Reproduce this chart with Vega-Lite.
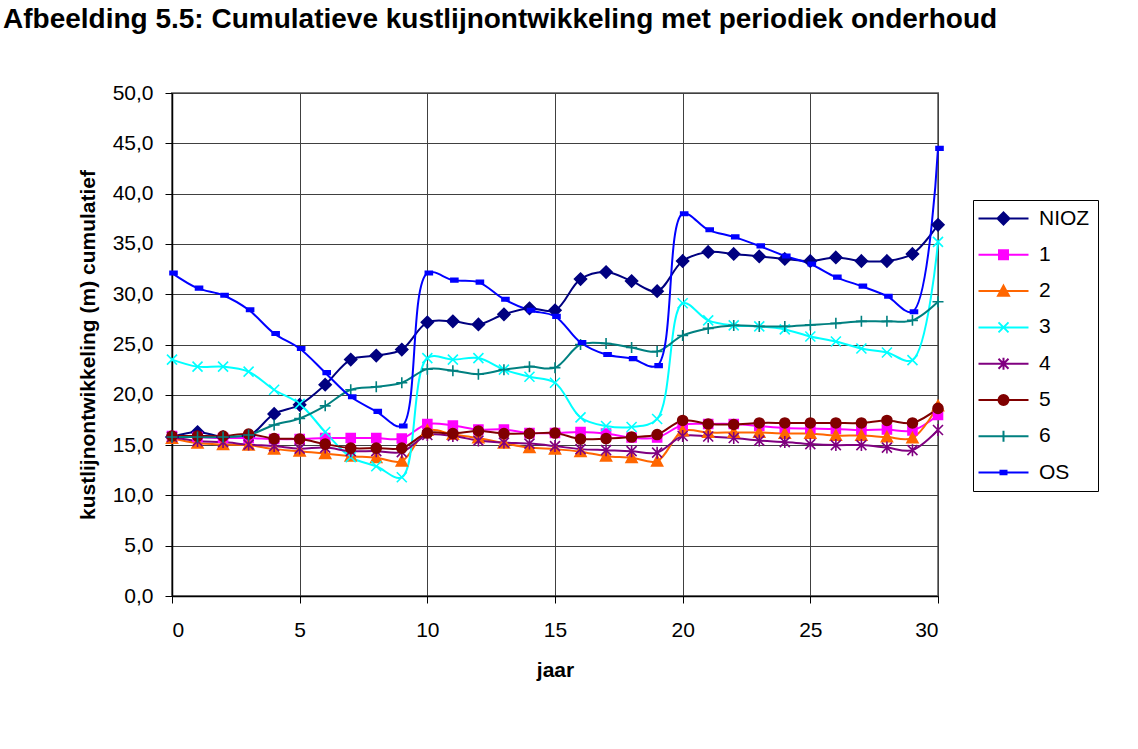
{
  "$schema": "https://vega.github.io/schema/vega-lite/v6.json",
  "autosize": "none",
  "width": 766,
  "height": 503,
  "padding": {"left": 172, "top": 93, "right": 200, "bottom": 153},
  "background": "white",
  "title": {
    "text": "Afbeelding 5.5:   Cumulatieve kustlijnontwikkeling met periodiek onderhoud",
    "anchor": "start",
    "frame": "group",
    "orient": "top",
    "baseline": "alphabetic",
    "offset": 0,
    "dx": -169,
    "dy": -26,
    "font": "Liberation Sans",
    "fontSize": 28,
    "fontWeight": "bold",
    "color": "#000"
  },
  "data": {
    "values": [
      {"jaar": 0, "NIOZ": 15.8, "1": 15.9, "2": 15.65, "3": 23.5, "4": 15.8, "5": 15.9, "6": 15.8, "OS": 32.1},
      {"jaar": 1, "NIOZ": 16.3, "1": 15.8, "2": 15.2, "3": 22.8, "4": 15.4, "5": 15.9, "6": 15.8, "OS": 30.6},
      {"jaar": 2, "NIOZ": 15.8, "1": 15.7, "2": 15.05, "3": 22.8, "4": 15.3, "5": 15.9, "6": 15.8, "OS": 29.9},
      {"jaar": 3, "NIOZ": 15.9, "1": 15.7, "2": 15.0, "3": 22.3, "4": 15.05, "5": 16.1, "6": 16.0, "OS": 28.45},
      {"jaar": 4, "NIOZ": 18.1, "1": 15.6, "2": 14.6, "3": 20.5, "4": 14.9, "5": 15.65, "6": 17.0, "OS": 26.1},
      {"jaar": 5, "NIOZ": 19.0, "1": 15.6, "2": 14.4, "3": 19.1, "4": 14.65, "5": 15.6, "6": 17.65, "OS": 24.6},
      {"jaar": 6, "NIOZ": 21.0, "1": 15.7, "2": 14.15, "3": 16.3, "4": 14.75, "5": 15.1, "6": 18.9, "OS": 22.2},
      {"jaar": 7, "NIOZ": 23.5, "1": 15.7, "2": 13.9, "3": 13.8, "4": 14.4, "5": 14.7, "6": 20.5, "OS": 19.8},
      {"jaar": 8, "NIOZ": 23.9, "1": 15.7, "2": 13.75, "3": 12.9, "4": 14.4, "5": 14.7, "6": 20.8, "OS": 18.35},
      {"jaar": 9, "NIOZ": 24.5, "1": 15.65, "2": 13.4, "3": 11.8, "4": 14.3, "5": 14.7, "6": 21.2, "OS": 16.9},
      {"jaar": 10, "NIOZ": 27.2, "1": 17.1, "2": 16.45, "3": 23.65, "4": 16.0, "5": 16.2, "6": 22.55, "OS": 32.1},
      {"jaar": 11, "NIOZ": 27.3, "1": 16.95, "2": 16.05, "3": 23.5, "4": 15.9, "5": 16.15, "6": 22.4, "OS": 31.4},
      {"jaar": 12, "NIOZ": 27.0, "1": 16.55, "2": 15.7, "3": 23.65, "4": 15.45, "5": 16.4, "6": 22.05, "OS": 31.2},
      {"jaar": 13, "NIOZ": 28.0, "1": 16.55, "2": 15.2, "3": 22.5, "4": 15.25, "5": 16.15, "6": 22.5, "OS": 29.5},
      {"jaar": 14, "NIOZ": 28.6, "1": 16.2, "2": 14.75, "3": 21.8, "4": 15.15, "5": 16.15, "6": 22.8, "OS": 28.4},
      {"jaar": 15, "NIOZ": 28.4, "1": 16.2, "2": 14.6, "3": 21.2, "4": 14.9, "5": 16.2, "6": 22.7, "OS": 27.8},
      {"jaar": 16, "NIOZ": 31.5, "1": 16.3, "2": 14.35, "3": 17.75, "4": 14.6, "5": 15.6, "6": 25.0, "OS": 25.2},
      {"jaar": 17, "NIOZ": 32.2, "1": 16.15, "2": 13.9, "3": 16.9, "4": 14.5, "5": 15.65, "6": 25.1, "OS": 24.0},
      {"jaar": 18, "NIOZ": 31.3, "1": 15.75, "2": 13.75, "3": 16.8, "4": 14.4, "5": 15.8, "6": 24.7, "OS": 23.6},
      {"jaar": 19, "NIOZ": 30.3, "1": 15.75, "2": 13.4, "3": 17.6, "4": 14.25, "5": 16.05, "6": 24.3, "OS": 22.9},
      {"jaar": 20, "NIOZ": 33.3, "1": 17.0, "2": 16.4, "3": 29.1, "4": 15.9, "5": 17.45, "6": 25.9, "OS": 38.0},
      {"jaar": 21, "NIOZ": 34.2, "1": 17.1, "2": 16.25, "3": 27.4, "4": 15.85, "5": 17.1, "6": 26.6, "OS": 36.4},
      {"jaar": 22, "NIOZ": 34.0, "1": 17.1, "2": 16.25, "3": 26.9, "4": 15.7, "5": 17.05, "6": 26.9, "OS": 35.7},
      {"jaar": 23, "NIOZ": 33.75, "1": 16.9, "2": 16.25, "3": 26.8, "4": 15.45, "5": 17.2, "6": 26.8, "OS": 34.8},
      {"jaar": 24, "NIOZ": 33.5, "1": 16.7, "2": 16.15, "3": 26.5, "4": 15.3, "5": 17.2, "6": 26.8, "OS": 33.8},
      {"jaar": 25, "NIOZ": 33.3, "1": 16.65, "2": 16.15, "3": 25.8, "4": 15.1, "5": 17.2, "6": 26.95, "OS": 33.0},
      {"jaar": 26, "NIOZ": 33.65, "1": 16.6, "2": 15.95, "3": 25.3, "4": 15.0, "5": 17.2, "6": 27.1, "OS": 31.7},
      {"jaar": 27, "NIOZ": 33.3, "1": 16.5, "2": 15.95, "3": 24.6, "4": 15.0, "5": 17.2, "6": 27.3, "OS": 30.8},
      {"jaar": 28, "NIOZ": 33.3, "1": 16.55, "2": 15.8, "3": 24.2, "4": 14.75, "5": 17.45, "6": 27.3, "OS": 29.8},
      {"jaar": 29, "NIOZ": 34.0, "1": 16.45, "2": 15.7, "3": 23.45, "4": 14.5, "5": 17.2, "6": 27.4, "OS": 28.25},
      {"jaar": 30, "NIOZ": 36.9, "1": 18.0, "2": 18.9, "3": 35.2, "4": 16.5, "5": 18.65, "6": 29.25, "OS": 44.5}
    ]
  },
  "transform": [
    {"fold": ["NIOZ", "1", "2", "3", "4", "5", "6", "OS"], "as": ["serie", "waarde"]}
  ],
  "encoding": {
    "x": {
      "field": "jaar",
      "type": "quantitative",
      "scale": {"domain": [0, 30], "nice": false, "zero": false},
      "axis": {
        "title": "jaar",
        "values": [0, 5, 10, 15, 20, 25, 30],
        "labelPadding": 16,
        "titlePadding": 19
      }
    },
    "y": {
      "field": "waarde",
      "type": "quantitative",
      "scale": {"domain": [0, 50], "nice": false},
      "axis": {
        "title": "kustlijnontwikkeling (m) cumulatief",
        "values": [0, 5, 10, 15, 20, 25, 30, 35, 40, 45, 50],
        "labelExpr": "replace(format(datum.value, '.1f'), '.', ',')",
        "labelPadding": 12,
        "titlePadding": 14
      }
    }
  },
  "layer": [
    {
      "mark": {"type": "line", "interpolate": "catmull-rom", "strokeWidth": 2},
      "encoding": {
        "color": {
          "field": "serie",
          "type": "nominal",
          "scale": {
            "domain": ["NIOZ", "1", "2", "3", "4", "5", "6", "OS"],
            "range": ["#000080", "#FF00FF", "#FF6600", "#00FFFF", "#800080", "#800000", "#008080", "#0000FF"]
          },
          "legend": null
        }
      }
    },
    {
      "mark": {"type": "point", "filled": true, "opacity": 1, "strokeWidth": 1.6, "size": 100},
      "encoding": {
        "shape": {
          "field": "serie",
          "type": "nominal",
          "scale": {
            "domain": ["NIOZ", "1", "2", "3", "4", "5", "6", "OS"],
            "range": [
              "M0,-1.2L1.2,0L0,1.2L-1.2,0Z",
              "M-0.9,-0.9H0.9V0.9H-0.9Z",
              "M0,-1.1L1.1,0.95H-1.1Z",
              "M-1,-1L1,1M-1,1L1,-1",
              "M-1,-1L1,1M-1,1L1,-1M0,-1.2V1.2",
              "M-1,0A1,1,0,1,1,1,0A1,1,0,1,1,-1,0Z",
              "M-1.1,0H1.1M0,-1.1V1.1",
              "M-0.4,-0.35H1V0.35H-0.4Z"
            ]
          },
          "legend": null
        },
        "stroke": {
          "field": "serie",
          "type": "nominal",
          "scale": {
            "domain": ["NIOZ", "1", "2", "3", "4", "5", "6", "OS"],
            "range": ["#000080", "#FF00FF", "#FF6600", "#00FFFF", "#800080", "#800000", "#008080", "#0000FF"]
          },
          "legend": null
        },
        "fill": {
          "field": "serie",
          "type": "nominal",
          "scale": {
            "domain": ["NIOZ", "1", "2", "3", "4", "5", "6", "OS"],
            "range": ["#000080", "#FF00FF", "#FF6600", "transparent", "transparent", "#800000", "transparent", "#0000FF"]
          },
          "legend": null
        }
      }
    },
    {
      "transform": [{"filter": "false"}],
      "mark": {"type": "point", "filled": true, "opacity": 1, "strokeWidth": 2, "size": 100},
      "encoding": {
        "shape": {
          "field": "serie",
          "type": "nominal",
          "title": null,
          "scale": {
            "domain": ["NIOZ", "1", "2", "3", "4", "5", "6", "OS"],
            "range": [
              "M-5,0H5M0,-1.2L1.2,0L0,1.2L-1.2,0Z",
              "M-5,0H5M-0.9,-0.9H0.9V0.9H-0.9Z",
              "M-5,0H5M0,-1.1L1.1,0.95H-1.1Z",
              "M-5,0H5M-1,-1L1,1M-1,1L1,-1",
              "M-5,0H5M-1,-1L1,1M-1,1L1,-1M0,-1.2V1.2",
              "M-5,0H5M-1,0A1,1,0,1,1,1,0A1,1,0,1,1,-1,0Z",
              "M-5,0H5M-1.1,0H1.1M0,-1.1V1.1",
              "M-5,0H5M-0.6,-0.35H0.6V0.35H-0.6Z"
            ]
          }
        },
        "stroke": {
          "field": "serie",
          "type": "nominal",
          "title": null,
          "scale": {
            "domain": ["NIOZ", "1", "2", "3", "4", "5", "6", "OS"],
            "range": ["#000080", "#FF00FF", "#FF6600", "#00FFFF", "#800080", "#800000", "#008080", "#0000FF"]
          }
        },
        "fill": {
          "field": "serie",
          "type": "nominal",
          "title": null,
          "scale": {
            "domain": ["NIOZ", "1", "2", "3", "4", "5", "6", "OS"],
            "range": ["#000080", "#FF00FF", "#FF6600", "transparent", "transparent", "#800000", "transparent", "#0000FF"]
          }
        }
      }
    }
  ],
  "resolve": {
    "scale": {"color": "independent", "shape": "independent", "stroke": "independent", "fill": "independent"},
    "legend": {"color": "independent", "shape": "independent", "stroke": "independent", "fill": "independent"}
  },
  "config": {
    "font": "Liberation Sans",
    "view": {"stroke": "#808080", "strokeWidth": 2},
    "axis": {
      "domainColor": "#000",
      "domainWidth": 1.5,
      "tickColor": "#000",
      "tickSize": 7,
      "tickWidth": 1,
      "gridColor": "#404040",
      "gridWidth": 1,
      "labelFont": "Liberation Sans",
      "labelFontSize": 21,
      "labelColor": "#000",
      "titleFont": "Liberation Sans",
      "titleFontSize": 21,
      "titleFontWeight": "bold",
      "titleColor": "#000"
    },
    "legend": {
      "orient": "none",
      "legendX": 801,
      "legendY": 107,
      "strokeColor": "#000",
      "fillColor": "white",
      "padding": 8,
      "titlePadding": 0,
      "symbolSize": 100,
      "symbolStrokeWidth": 2,
      "symbolOffset": 12,
      "labelOffset": 25,
      "rowPadding": 14.3,
      "labelFont": "Liberation Sans",
      "labelFontSize": 21,
      "labelColor": "#000",
      "labelLimit": 200
    }
  }
}
